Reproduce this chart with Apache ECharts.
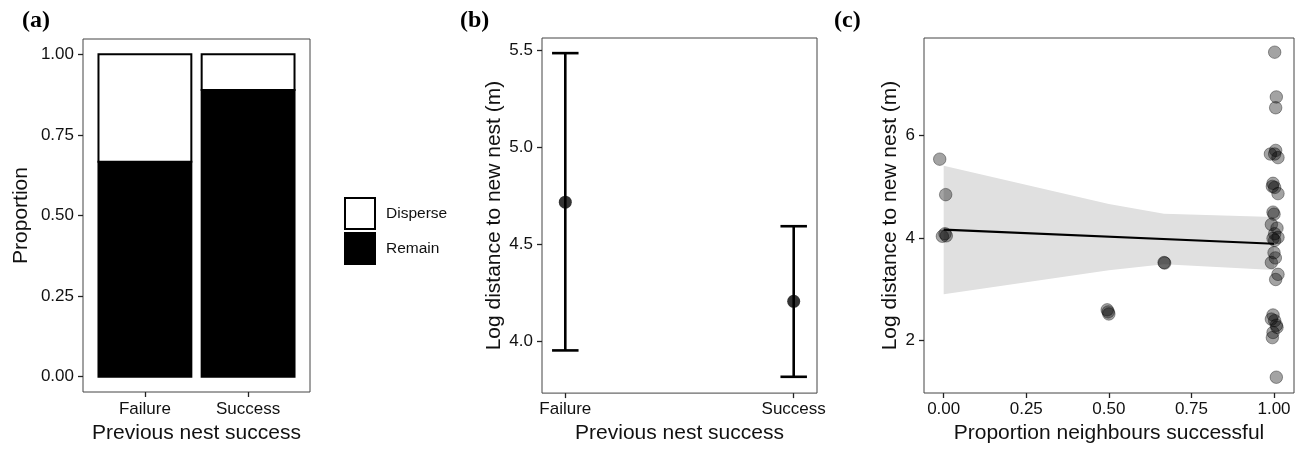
<!DOCTYPE html>
<html>
<head>
<meta charset="utf-8">
<script src="https://cdn.jsdelivr.net/npm/echarts@6/dist/echarts.min.js"></script>
<style>
html,body{margin:0;padding:0;background:#fff;}
#chart{width:1304px;height:449px;}
</style>
</head>
<body>
<div id="chart"></div>
<script>
// ---------- data ----------
const categories = ['Failure', 'Success'];
// panel (a): proportions
const remain = [0.667, 0.889];
const disperse = [0.333, 0.111];
// panel (b): mean and CI of log distance
const bMean = [4.715, 4.204];
const bLower = [3.951, 3.815];
const bUpper = [5.483, 4.591];
// panel (c): points (x = proportion neighbours successful, jittered; y = log distance)
const cX = [-0.012, 0.006, -0.004, 0.008, 0.004,
  0.495, 0.500, 0.498,
  0.667, 0.669,
  1.002, 1.007, 1.005, 0.989, 1.005, 1.002, 1.012, 0.997, 0.995, 1.002, 1.012,
  0.997, 1.000, 0.992, 1.009, 1.002, 1.012, 0.997, 1.002, 1.000, 1.004, 0.992,
  1.012, 1.005, 0.997, 0.992, 1.002, 1.007, 1.009, 0.997, 0.995, 1.007];
const cY = [5.53, 4.84, 4.03, 4.04, 4.08,
  2.60, 2.52, 2.56,
  3.52, 3.51,
  7.61, 6.74, 6.53, 5.63, 5.70, 5.63, 5.56, 5.06, 5.00, 4.98, 4.86,
  4.50, 4.46, 4.26, 4.19, 4.08, 4.01, 3.99, 3.95, 3.71, 3.61, 3.52,
  3.29, 3.19, 2.50, 2.42, 2.39, 2.30, 2.26, 2.16, 2.06, 1.29];
// fitted line and confidence band
const fitX = [0, 1];
const fitY = [4.16, 3.885];
const bandX = [0, 0.5, 0.667, 1];
const bandLo = [2.905, 3.369, 3.485, 3.376];
const bandHi = [5.40, 4.656, 4.47, 4.405];
// tick values
const aTicks = [0, 0.25, 0.5, 0.75, 1];
const bTicks = [4, 4.5, 5, 5.5];
const cTicksX = [0, 0.25, 0.5, 0.75, 1];
const cTicksY = [2, 4, 6];

// ---------- chart ----------
const FONT = 'Liberation Sans, Helvetica, Arial, sans-serif';
const SERIF = 'Liberation Serif, Times New Roman, serif';
const TXT = '#111';
const tickFont = 17;
const titleFont = 21;
const tickStyle = {show: true, length: 5, lineStyle: {color: '#222', width: 1.3}};

function axisCommon(extra) {
  return Object.assign({
    axisLine: {show: false, onZero: false},
    splitLine: {show: false},
    nameLocation: 'middle',
    nameTextStyle: {color: TXT, fontSize: titleFont, fontFamily: FONT}
  }, extra);
}
function ticks(vals) { return Object.assign({customValues: vals}, tickStyle); }
function labels(vals, margin, fmt) {
  return {color: TXT, fontSize: tickFont, fontFamily: FONT, margin: margin, customValues: vals, formatter: fmt};
}

const chart = echarts.init(document.getElementById('chart'), null, {renderer: 'canvas'});

const barRender = (fill) => function (params, api) {
  const x = api.value(0), lo = api.value(1), hi = api.value(2);
  const p0 = api.coord([x - 0.45, hi]);
  const p1 = api.coord([x + 0.45, lo]);
  return {
    type: 'rect',
    shape: {x: p0[0], y: p0[1], width: p1[0] - p0[0], height: p1[1] - p0[1]},
    style: {fill: fill, stroke: '#000', lineWidth: 2}
  };
};
const catFmt = v => categories[Math.round(v) - 1] || '';
const panelTitle = (t, left) => ({text: t, left: left, top: 9, padding: 0,
  textStyle: {fontFamily: SERIF, fontWeight: 'bold', fontSize: 24, color: '#000'}});

const option = {
  animation: false,
  backgroundColor: '#fff',
  textStyle: {fontFamily: FONT},
  title: [panelTitle('(a)', 22), panelTitle('(b)', 460), panelTitle('(c)', 834)],
  legend: {
    orient: 'vertical',
    left: 344, top: 197,
    padding: 0,
    itemWidth: 30, itemHeight: 31, itemGap: 2,
    selectedMode: false,
    textStyle: {color: TXT, fontSize: 15.5, fontFamily: FONT, padding: [0, 0, 0, 6]},
    data: [
      {name: 'Disperse', icon: 'rect', itemStyle: {color: '#fff', borderColor: '#000', borderWidth: 2}},
      {name: 'Remain', icon: 'rect', itemStyle: {color: '#000', borderColor: '#000', borderWidth: 2}}
    ]
  },
  grid: [
    {left: 83, top: 39, width: 227, height: 353, show: true, borderColor: '#444', borderWidth: 1},
    {left: 542, top: 38, width: 275, height: 359, show: true, borderColor: '#444', borderWidth: 1},
    {left: 924, top: 38, width: 370, height: 358, show: true, borderColor: '#444', borderWidth: 1}
  ],
  xAxis: [
    axisCommon({
      gridIndex: 0, type: 'value', min: 0.4, max: 2.6,
      name: 'Previous nest success', nameGap: 31,
      axisTick: ticks([1, 2]),
      axisLabel: labels([1, 2], 9, catFmt)
    }),
    axisCommon({
      gridIndex: 1, type: 'value', min: 0.898, max: 2.102,
      name: 'Previous nest success', nameGap: 28,
      axisTick: ticks([1, 2]),
      axisLabel: labels([1, 2], 8, catFmt)
    }),
    axisCommon({
      gridIndex: 2, type: 'value', min: -0.0596, max: 1.0605,
      name: 'Proportion neighbours successful', nameGap: 30,
      axisTick: ticks(cTicksX),
      axisLabel: labels(cTicksX, 8, v => Number(v).toFixed(2))
    })
  ],
  yAxis: [
    axisCommon({
      gridIndex: 0, type: 'value', min: -0.0475, max: 1.0475,
      name: 'Proportion', nameGap: 51,
      axisTick: ticks(aTicks),
      axisLabel: labels(aTicks, 9, v => Number(v).toFixed(2))
    }),
    axisCommon({
      gridIndex: 1, type: 'value', min: 3.731, max: 5.561,
      name: 'Log distance to new nest (m)', nameGap: 37,
      axisTick: ticks(bTicks),
      axisLabel: labels(bTicks, 9, v => Number(v).toFixed(1))
    }),
    axisCommon({
      gridIndex: 2, type: 'value', min: 0.983, max: 7.886,
      name: 'Log distance to new nest (m)', nameGap: 23,
      axisTick: ticks(cTicksY),
      axisLabel: labels(cTicksY, 9, v => String(v))
    })
  ],
  series: [
    // (a) stacked proportion bars
    {
      name: 'Remain', type: 'custom', xAxisIndex: 0, yAxisIndex: 0,
      encode: {x: 0, y: [1, 2]},
      itemStyle: {color: '#000'},
      renderItem: barRender('#000'),
      data: categories.map((c, i) => [i + 1, 0, remain[i]])
    },
    {
      name: 'Disperse', type: 'custom', xAxisIndex: 0, yAxisIndex: 0,
      encode: {x: 0, y: [1, 2]},
      itemStyle: {color: '#fff'},
      renderItem: barRender('#fff'),
      data: categories.map((c, i) => [i + 1, remain[i], remain[i] + disperse[i]])
    },
    // (b) error bars
    {
      name: 'ci', type: 'custom', xAxisIndex: 1, yAxisIndex: 1,
      encode: {x: 0, y: [1, 2]},
      renderItem: function (params, api) {
        const x = api.value(0), lo = api.value(1), hi = api.value(2);
        const w = 0.058;
        const pl = api.coord([x, lo]), ph = api.coord([x, hi]);
        const l1 = api.coord([x - w, lo]), l2 = api.coord([x + w, lo]);
        const h1 = api.coord([x - w, hi]), h2 = api.coord([x + w, hi]);
        const st = {stroke: '#000', lineWidth: 2.6, fill: null};
        return {type: 'group', children: [
          {type: 'line', shape: {x1: pl[0], y1: pl[1], x2: ph[0], y2: ph[1]}, style: st},
          {type: 'line', shape: {x1: l1[0], y1: l1[1], x2: l2[0], y2: l2[1]}, style: st},
          {type: 'line', shape: {x1: h1[0], y1: h1[1], x2: h2[0], y2: h2[1]}, style: st}
        ]};
      },
      data: categories.map((c, i) => [i + 1, bLower[i], bUpper[i]])
    },
    {
      name: 'mean', type: 'scatter', xAxisIndex: 1, yAxisIndex: 1,
      symbol: 'circle', symbolSize: 13,
      itemStyle: {color: '#000'},
      data: categories.map((c, i) => [i + 1, bMean[i]]),
      z: 3
    },
    // (c) confidence band
    {
      name: 'band', type: 'custom', xAxisIndex: 2, yAxisIndex: 2,
      encode: {x: 0, y: [1, 2]},
      renderItem: function (params, api) {
        if (params.dataIndex !== 0) return null;
        const pts = [];
        for (let i = 0; i < bandX.length; i++) pts.push(api.coord([bandX[i], bandHi[i]]));
        for (let i = bandX.length - 1; i >= 0; i--) pts.push(api.coord([bandX[i], bandLo[i]]));
        return {type: 'polygon', shape: {points: pts}, style: {fill: '#e0e0e0', stroke: null}};
      },
      data: bandX.map((x, i) => [x, bandLo[i], bandHi[i]]),
      z: 1
    },
    {
      name: 'fit', type: 'line', xAxisIndex: 2, yAxisIndex: 2,
      symbol: 'none',
      lineStyle: {color: '#000', width: 2.2},
      data: fitX.map((x, i) => [x, fitY[i]]),
      z: 2
    },
    {
      name: 'obs', type: 'scatter', xAxisIndex: 2, yAxisIndex: 2,
      symbol: 'circle', symbolSize: 12.5,
      itemStyle: {color: 'rgba(0,0,0,0.45)', borderColor: 'rgba(0,0,0,0.45)', borderWidth: 1},
      data: cX.map((x, i) => [x, cY[i]]),
      z: 3
    }
  ]
};
chart.setOption(option);
</script>
</body>
</html>
